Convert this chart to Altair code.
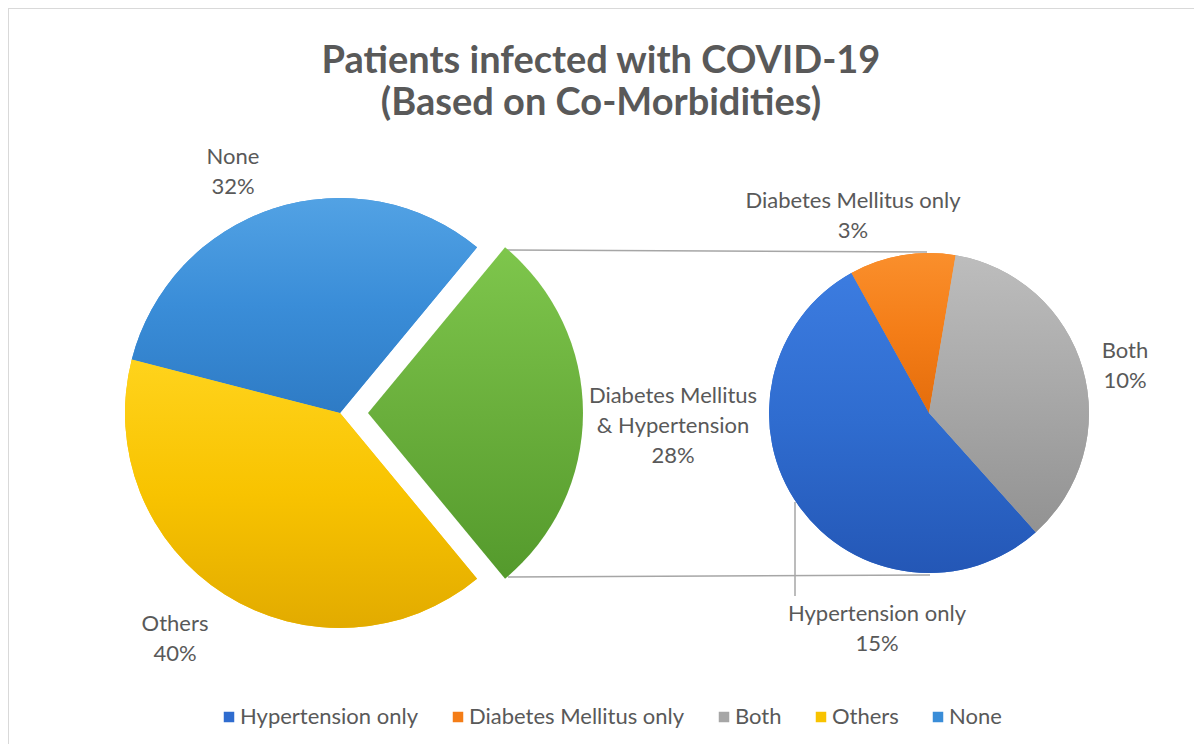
import math
import altair as alt
import pandas as pd

# ---------------- data ----------------
main_categories = ["Diabetes Mellitus & Hypertension", "Others", "None"]
main_values = [28, 40, 32]
sub_categories = ["Diabetes Mellitus only", "Both", "Hypertension only"]
sub_values = [3, 10, 15]
legend_order = ["Hypertension only", "Diabetes Mellitus only", "Both", "Others", "None"]
legend_colors = ["#2f6ccf", "#f47d17", "#a6a6a6", "#f8c300", "#3a8dd8"]
exploded_color = "#6aaf3c"
title_lines = ["Patients infected with COVID-19", "(Based on Co-Morbidities)"]

# light-to-dark shading of each slice (top, middle, bottom)
shades = {
    "None": ["#52a2e4", "#3a8dd8", "#2e7bc5"],
    "Others": ["#ffd31c", "#f8c300", "#e2ab00"],
    "Diabetes Mellitus & Hypertension": ["#7ec64c", "#6aaf3c", "#549a2c"],
    "Hypertension only": ["#3c7ce0", "#2f6ccf", "#2457b6"],
    "Diabetes Mellitus only": ["#fa8f2c", "#f47d17", "#e46d0c"],
    "Both": ["#bdbdbd", "#a8a8a8", "#929292"],
}

FONT = "Lato"
TEXT = "#595959"
OFF = 8  # page margin

main_df = pd.DataFrame({"category": main_categories, "value": main_values})
sub_df = pd.DataFrame({"category": sub_categories, "value": sub_values})


def with_angles(df, start_deg):
    s = math.radians(start_deg)
    return (
        alt.Chart(df)
        .transform_joinaggregate(total="sum(value)")
        .transform_window(cum="sum(value)", frame=[None, 0])
        .transform_calculate(
            t0=f"{s} + 2*PI*(datum.cum - datum.value)/datum.total",
            t1=f"{s} + 2*PI*datum.cum/datum.total",
            label="replace(datum.category, ' & ', '\\n& ') + '\\n' + datum.value + '%'",
        )
    )


main_base = with_angles(main_df, 39.6)
sub_base = with_angles(sub_df, -29.0)

color = alt.Color(
    "category:N",
    scale=alt.Scale(domain=legend_order, range=legend_colors),
    legend=alt.Legend(
        title=None,
        orient="none",
        direction="horizontal",
        legendX=210,
        legendY=698,
        symbolType="square",
        symbolSize=110,
        symbolStrokeWidth=0,
        labelFont=FONT,
        labelFontSize=22,
        labelColor=TEXT,
        labelLimit=400,
        columnPadding=28,
        labelOffset=0,
    ),
)

MAIN_CX, MAIN_CY, MAIN_R = 340 - OFF, 413 - OFF, 215
EXPLODE = 28
SUB_CX, SUB_CY, SUB_R = 929 - OFF, 413 - OFF, 160

main_rest = (
    main_base.transform_filter("datum.category != 'Diabetes Mellitus & Hypertension'")
    .mark_arc(radius=MAIN_R)
    .encode(
        theta=alt.Theta("t0:Q", scale=None),
        theta2="t1:Q",
        color=color,
        x=alt.value(MAIN_CX),
        y=alt.value(MAIN_CY),
    )
)

sub_pie = sub_base.mark_arc(radius=SUB_R).encode(
    theta=alt.Theta("t0:Q", scale=None),
    theta2="t1:Q",
    color=color,
    x=alt.value(SUB_CX),
    y=alt.value(SUB_CY),
)


def shaded(base, cat, cx, cy, r):
    top, mid, bot = shades[cat]
    grad = alt.Gradient(
        gradient="linear",
        x1=0, y1=0, x2=0, y2=1,
        stops=[
            alt.GradientStop(color=top, offset=0),
            alt.GradientStop(color=mid, offset=0.5),
            alt.GradientStop(color=bot, offset=1),
        ],
    )
    return (
        base.transform_filter(alt.datum.category == cat)
        .mark_arc(radius=r, fill=grad)
        .encode(
            theta=alt.Theta("t0:Q", scale=None),
            theta2="t1:Q",
            x=alt.value(cx),
            y=alt.value(cy),
        )
    )


shaded_slices = [
    shaded(main_base, "None", MAIN_CX, MAIN_CY, MAIN_R),
    shaded(main_base, "Others", MAIN_CX, MAIN_CY, MAIN_R),
    shaded(main_base, "Diabetes Mellitus & Hypertension", MAIN_CX + EXPLODE, MAIN_CY, MAIN_R),
    shaded(sub_base, "Hypertension only", SUB_CX, SUB_CY, SUB_R),
    shaded(sub_base, "Diabetes Mellitus only", SUB_CX, SUB_CY, SUB_R),
    shaded(sub_base, "Both", SUB_CX, SUB_CY, SUB_R),
]

one = pd.DataFrame({"k": [0]})


def line(x1, y1, x2, y2, c="#a6a6a6", w=1.5):
    return alt.Chart(one).mark_rule(color=c, strokeWidth=w).encode(
        x=alt.value(x1 - OFF), y=alt.value(y1 - OFF), x2=alt.value(x2 - OFF), y2=alt.value(y2 - OFF)
    )


connectors = [
    line(507, 250, 927, 252),
    line(508, 577, 930, 575),
    line(795, 502, 795, 596),
]

border = [
    alt.Chart(one).mark_rule(color="#d9d9d9", strokeWidth=2).encode(
        x=alt.value(0), y=alt.value(0), x2=alt.value(1186), y2=alt.value(0)
    ),
    alt.Chart(one).mark_rule(color="#d9d9d9", strokeWidth=2).encode(
        x=alt.value(0), y=alt.value(0), x2=alt.value(0), y2=alt.value(744)
    ),
]


def label(base, cat, x, y):
    # y is the centre of the first line
    return (
        base.transform_filter(alt.datum.category == cat)
        .mark_text(
            font=FONT,
            fontSize=22,
            color=TEXT,
            lineBreak="\n",
            lineHeight=30,
            align="center",
            baseline="middle",
        )
        .encode(text="label:N", x=alt.value(x - OFF), y=alt.value(y - OFF))
    )


labels = [
    label(main_base, "None", 233, 157),
    label(main_base, "Others", 175, 624),
    label(main_base, "Diabetes Mellitus & Hypertension", 673, 396),
    label(sub_base, "Diabetes Mellitus only", 853, 201),
    label(sub_base, "Both", 1125, 351),
    label(sub_base, "Hypertension only", 877, 614),
]

chart = alt.layer(
    *border, *connectors, main_rest, sub_pie, *shaded_slices, *labels
).properties(
    width=1186,
    height=736,
    padding=0,
    autosize=alt.AutoSizeParams(type="none"),
    title=alt.TitleParams(
        text=title_lines,
        font=FONT,
        fontSize=38,
        fontWeight="bold",
        color=TEXT,
        anchor="middle",
        baseline="top",
        lineHeight=42,
        offset=0,
        dy=116,
    ),
).configure_view(stroke=None)

chart.save("out.html", embed_options={"renderer": "svg", "actions": False})
